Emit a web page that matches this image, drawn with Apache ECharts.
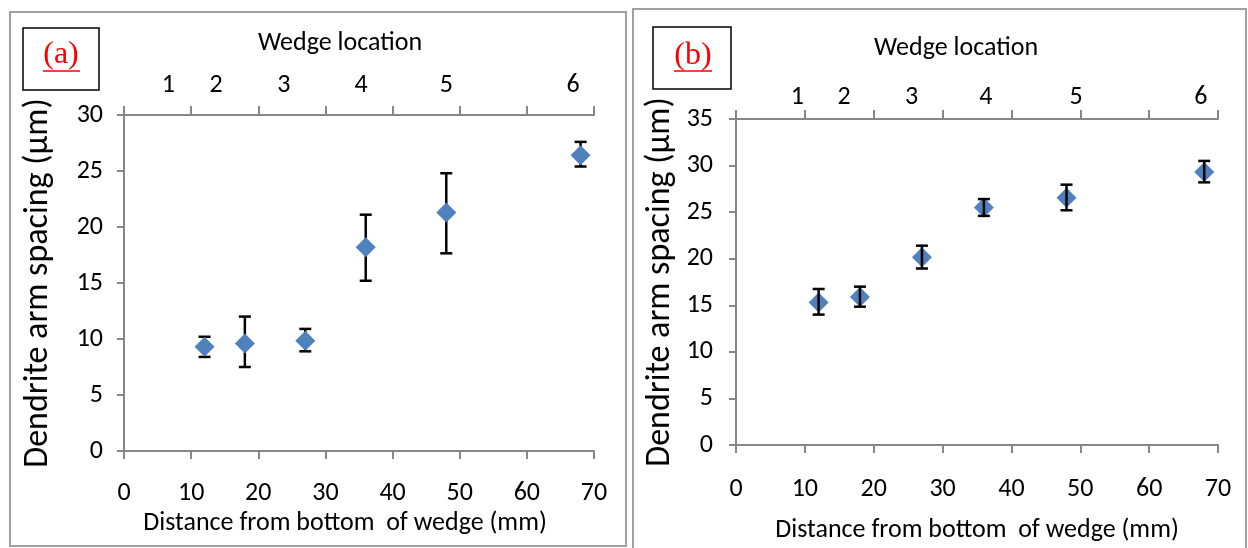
<!DOCTYPE html>
<html>
<head>
<meta charset="utf-8">
<script src="https://cdn.jsdelivr.net/npm/echarts@6/dist/echarts.min.js"></script>
<style>
html,body{margin:0;padding:0;background:#fff;}
#c{width:1248px;height:548px;}
</style>
</head>
<body>
<div id="c"></div>
<script>
// ---- data ----
const distA = [12, 18, 27, 36, 48, 68];
const dasA = [9.3, 9.6, 9.85, 18.2, 21.3, 26.4];
const lowA = [8.4, 7.5, 8.9, 15.2, 17.65, 25.4];
const highA = [10.2, 12.0, 10.9, 21.1, 24.8, 27.6];

const distB = [12, 18, 27, 36, 48, 68];
const dasB = [15.3, 15.9, 20.15, 25.5, 26.55, 29.3];
const lowB = [14.0, 14.85, 18.95, 24.6, 25.2, 28.2];
const highB = [16.75, 17.0, 21.4, 26.4, 27.95, 30.5];

const wedgeLabels = ['1', '2', '3', '4', '5', '6'];
const wedgePosA = [6.6, 13.7, 23.8, 35.3, 48.0, 66.9];
const wedgePosB = [8.9, 15.7, 25.5, 36.3, 49.4, 67.5];

const xTitle = 'Distance from bottom  of wedge (mm)';
const yTitle = 'Dendrite arm spacing (\u00b5m)';
const topTitle = 'Wedge location';

// ---- styles ----
const FONT = 'Carlito, Lato, sans-serif';
const AX = '#878787';
const MARK = '#4F81BD';

function pts(xs, ys) { return xs.map((x, i) => [x, ys[i]]); }
function errs(xs, lo, hi) { return xs.map((x, i) => [x, lo[i], hi[i]]); }

function errRender(params, api) {
  const x = api.value(0), lo = api.value(1), hi = api.value(2);
  const pLo = api.coord([x, lo]), pHi = api.coord([x, hi]);
  const cap = 6;
  const st = { stroke: '#000', lineWidth: 2.5 };
  return {
    type: 'group',
    children: [
      { type: 'line', shape: { x1: pLo[0], y1: pLo[1], x2: pHi[0], y2: pHi[1] }, style: st },
      { type: 'line', shape: { x1: pLo[0] - cap, y1: pLo[1], x2: pLo[0] + cap, y2: pLo[1] }, style: st },
      { type: 'line', shape: { x1: pHi[0] - cap, y1: pHi[1], x2: pHi[0] + cap, y2: pHi[1] }, style: st }
    ]
  };
}

function bottomAxis(gi, gap) {
  return {
    type: 'value', gridIndex: gi, position: 'bottom', min: 0, max: 70, interval: 10,
    splitLine: { show: false },
    axisLine: { show: true, lineStyle: { color: AX, width: 2 } },
    axisTick: { show: true, length: 8, lineStyle: { color: AX, width: 2 } },
    axisLabel: { color: '#000', fontFamily: FONT, fontSize: 26, margin: gap.label },
    name: xTitle, nameLocation: 'middle', nameGap: gap.name,
    nameTextStyle: { color: '#000', fontFamily: FONT, fontSize: 26, padding: gap.pad || 0 }
  };
}
function topAxis(gi, pos, gap) {
  return {
    type: 'value', gridIndex: gi, position: 'top', min: 0, max: 70, interval: 10,
    splitLine: { show: false },
    axisLine: { show: true, lineStyle: { color: AX, width: 2 } },
    axisTick: { show: true, length: 9, lineStyle: { color: AX, width: 2 } },
    axisLabel: {
      show: true, customValues: pos, margin: gap.label,
      color: '#000', fontFamily: FONT, fontSize: 26,
      formatter: v => { const i = pos.indexOf(v); return i >= 0 ? wedgeLabels[i] : ''; }
    },
    name: topTitle, nameLocation: 'middle', nameGap: gap.name,
    nameTextStyle: { color: '#000', fontFamily: FONT, fontSize: 26, padding: gap.pad || 0 }
  };
}
function leftAxis(gi, max, gap) {
  return {
    type: 'value', gridIndex: gi, min: 0, max: max, interval: 5,
    splitLine: { show: false },
    axisLine: { show: true, lineStyle: { color: AX, width: 2 } },
    axisTick: { show: true, length: 7, lineStyle: { color: AX, width: 2 } },
    axisLabel: { color: '#000', fontFamily: FONT, fontSize: 26, margin: gap.label },
    name: yTitle, nameLocation: 'middle', nameGap: gap.name, nameRotate: 90,
    nameTextStyle: { color: '#000', fontFamily: FONT, fontSize: 34 }
  };
}

const chart = echarts.init(document.getElementById('c'), null, { renderer: 'canvas' });
chart.setOption({
  backgroundColor: '#fff',
  animation: false,
  grid: [
    { left: 124, top: 115, width: 470, height: 336 },
    { left: 736, top: 119, width: 482, height: 330 }
  ],
  xAxis: [
    bottomAxis(0, { label: 29, name: 59, pad: [0, 28, 0, 0] }),
    topAxis(0, wedgePosA, { label: 17, name: 59, pad: [0, 38, 0, 0] }),
    bottomAxis(1, { label: 31, name: 72 }),
    topAxis(1, wedgePosB, { label: 9, name: 58, pad: [0, 42, 0, 0] })
  ],
  yAxis: [
    leftAxis(0, 30, { label: 21, name: 69 }),
    leftAxis(1, 35, { label: 23, name: 59 })
  ],
  series: [
    { type: 'custom', xAxisIndex: 0, yAxisIndex: 0, renderItem: errRender, data: errs(distA, lowA, highA), z: 2 },
    { type: 'scatter', xAxisIndex: 0, yAxisIndex: 0, symbol: 'diamond', symbolSize: 20,
      itemStyle: { color: MARK, opacity: 1 }, data: pts(distA, dasA), z: 3 },
    { type: 'scatter', xAxisIndex: 2, yAxisIndex: 1, symbol: 'diamond', symbolSize: 20,
      itemStyle: { color: MARK, opacity: 1 }, data: pts(distB, dasB), z: 2 },
    { type: 'custom', xAxisIndex: 2, yAxisIndex: 1, renderItem: errRender, data: errs(distB, lowB, highB), z: 3 }
  ],
  graphic: [
    { type: 'rect', shape: { x: 10, y: 12, width: 616, height: 534 }, style: { fill: 'none', stroke: '#A0A0A0', lineWidth: 2 }, silent: true },
    { type: 'rect', shape: { x: 633, y: 9, width: 613, height: 560 }, style: { fill: 'none', stroke: '#A0A0A0', lineWidth: 2 }, silent: true },
    { type: 'rect', shape: { x: 23, y: 28, width: 76, height: 62 }, style: { fill: 'none', stroke: '#000', lineWidth: 1.5 } },
    { type: 'text', x: 61, y: 55, style: { text: '(a)', fill: '#FF0000', font: '32px "Liberation Serif", serif', align: 'center', verticalAlign: 'middle' } },
    { type: 'line', shape: { x1: 43, y1: 71, x2: 80, y2: 71 }, style: { stroke: '#FF0000', lineWidth: 1.5 } },
    { type: 'rect', shape: { x: 653, y: 27, width: 78, height: 62 }, style: { fill: 'none', stroke: '#000', lineWidth: 1.5 } },
    { type: 'text', x: 693, y: 56, style: { text: '(b)', fill: '#FF0000', font: '32px "Liberation Serif", serif', align: 'center', verticalAlign: 'middle' } },
    { type: 'line', shape: { x1: 674, y1: 71, x2: 712, y2: 71 }, style: { stroke: '#FF0000', lineWidth: 1.5 } }
  ]
});
</script>
</body>
</html>
